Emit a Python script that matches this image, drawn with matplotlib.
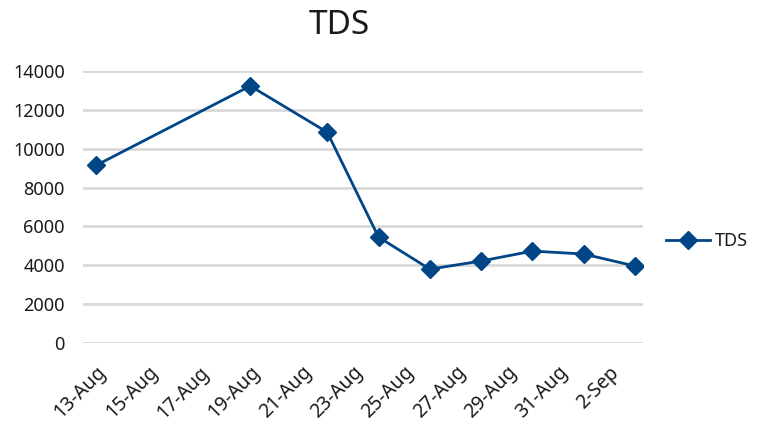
import numpy as np
import matplotlib.pyplot as plt
import matplotlib.dates as mdates

plt.rcParams['font.family'] = ['Noto Sans', 'DejaVu Sans']

# sample dates and TDS readings
dates = np.array(['2015-08-13', '2015-08-19', '2015-08-22', '2015-08-24', '2015-08-26',
                  '2015-08-28', '2015-08-30', '2015-09-01', '2015-09-03'], dtype='datetime64[D]')
tds = [9150, 13230, 10850, 5450, 3800, 4220, 4730, 4580, 3960]

tick_dates = np.arange(np.datetime64('2015-08-13'), np.datetime64('2015-09-03'), 2)
y_ticks = np.arange(0, 14001, 2000)

line_color = '#004586'
text_color = '#1a1a1a'

fig = plt.figure(figsize=(7.64, 4.23), dpi=100)
ax = fig.add_axes([83/764, 1 - 343/423, 560/764, 272/423])

ax.plot(dates, tds, color=line_color, linewidth=2, marker='D', markersize=9,
        label='TDS')

ax.set_ylim(0, 14000)
ax.set_yticks(y_ticks)
ax.set_xlim(mdates.date2num(np.datetime64('2015-08-13')) - 0.52,
            mdates.date2num(np.datetime64('2015-09-03')) + 0.31)
ax.set_xticks(tick_dates)
ax.xaxis.set_major_formatter(mdates.DateFormatter('%-d-%b'))

ax.grid(axis='y', color='#d9d9d9', linewidth=2)
ax.set_axisbelow(True)
for s in ax.spines.values():
    s.set_visible(False)
ax.tick_params(length=0, labelsize=13, colors=text_color)
ax.tick_params(axis='y', pad=13)
ax.tick_params(axis='x', pad=14, labelsize=14)
for lab in ax.get_xticklabels():
    lab.set_rotation(45)
    lab.set_ha('right')
    lab.set_rotation_mode('anchor')

fig.text(339/764, 1 - 25/423, 'TDS', fontsize=24, ha='center', va='center',
         color=text_color)

fig.legend(loc='center left', bbox_to_anchor=(650/764, 1 - 241/423), frameon=False,
           fontsize=13, handlelength=2.4, handletextpad=0.3, labelcolor=text_color)

fig.savefig('out.png', dpi=100)
